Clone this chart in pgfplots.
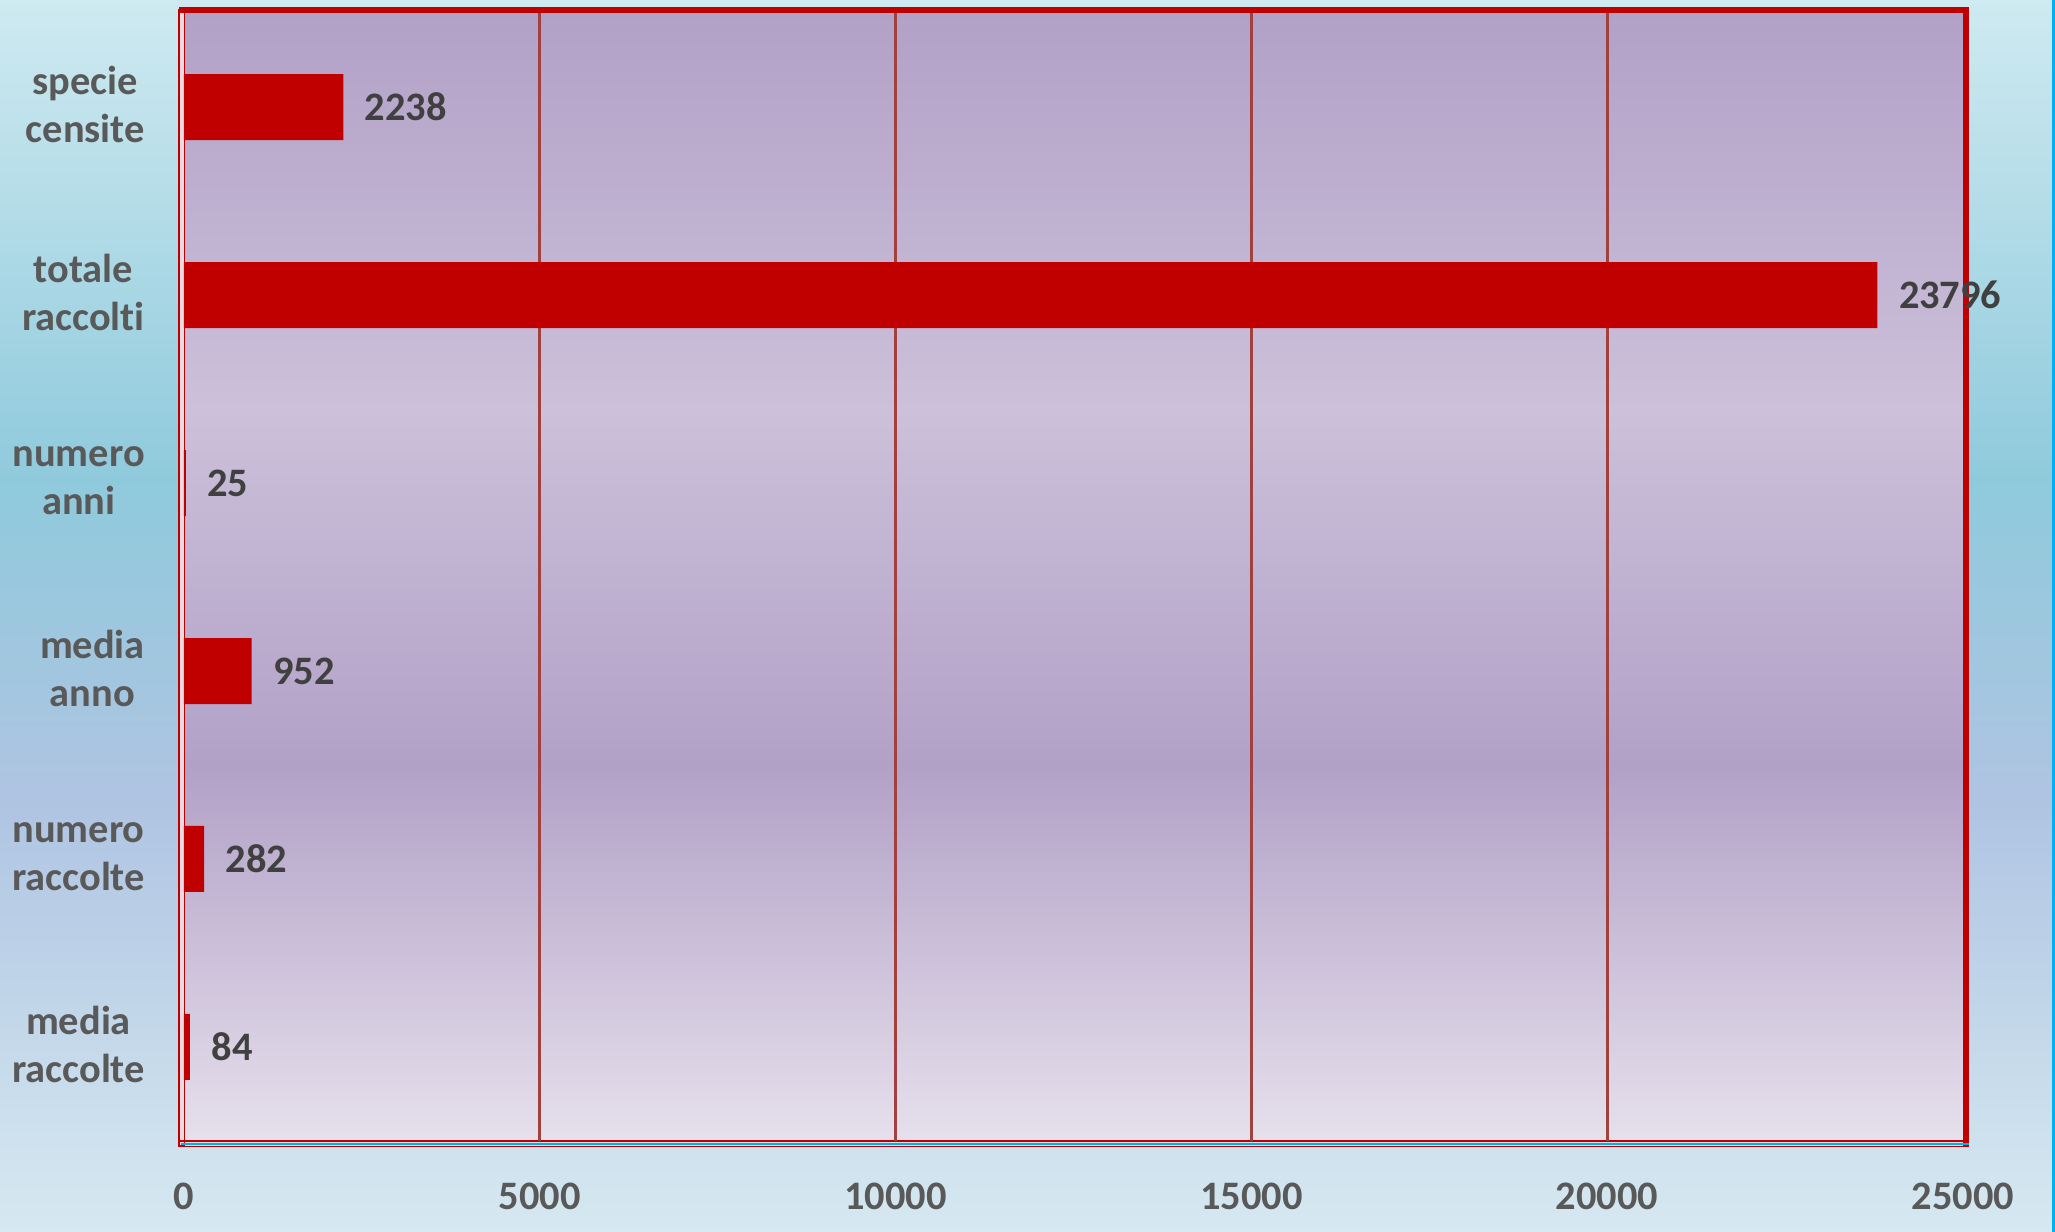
\documentclass[border=0pt]{standalone}
\usepackage{fontspec}
\setmainfont{Carlito}[Ligatures=CommonOff]
\usepackage{pgfplots}
\pgfplotsset{compat=1.18}

\definecolor{barred}{HTML}{C00000}
\definecolor{gridred}{HTML}{A0413E}
\definecolor{labgray}{HTML}{595959}
\definecolor{valgray}{HTML}{404040}
\definecolor{edgeblue}{HTML}{00B0F0}
\definecolor{stripfill}{HTML}{E6DCE4}
% outer background
\definecolor{ob1}{HTML}{D6E9F1}
\definecolor{ob2}{HTML}{AFC4E2}
\definecolor{ob3}{HTML}{8FCADC}
\definecolor{ob4}{HTML}{CFEAF1}
% plot area
\definecolor{pa1}{HTML}{E6E0EC}
\definecolor{pa2}{HTML}{B2A1C7}
\definecolor{pa3}{HTML}{CCC0DA}
\definecolor{pa4}{HTML}{B2A1C7}

\pgfdeclareverticalshading{outerbg}{100bp}{color(0bp)=(ob1); color(25bp)=(ob1);
  color(42.5bp)=(ob2); color(55.5bp)=(ob3); color(75bp)=(ob4); color(100bp)=(ob4)}
\pgfdeclareverticalshading{plotbg}{100bp}{color(0bp)=(pa1); color(25bp)=(pa1);
  color(41.6bp)=(pa2); color(57.4bp)=(pa3); color(75bp)=(pa4); color(100bp)=(pa4)}

\newcommand{\lblfont}{\fontsize{11.5}{13.5}\selectfont\bfseries}

\begin{document}
\begin{tikzpicture}
  % backgrounds and frame, in image pixels (origin top left)
  \begin{scope}[x=0.1mm, y=-0.1mm, shift={(0,123.2mm)}]
    \shade[shading=outerbg] (0,0) rectangle (2055,1232);
    \shade[shading=plotbg] (184,13.3) rectangle (1963,1141);
    \fill[edgeblue] (2052,0) rectangle (2055,1232);
    \filldraw[fill=stripfill, draw=barred, line width=0.15mm] (179,10) rectangle (184.3,1146);
    \draw[barred, line width=0.66mm] (179,10) -- (1966,10) -- (1966,1146);
    \draw[barred, line width=0.2mm] (179,1141) -- (1969,1141);
    \draw[edgeblue, line width=0.25mm] (181,1143.8) -- (1969,1143.8);
    \draw[barred, line width=0.15mm] (179,1146.3) -- (1969,1146.3);
  \end{scope}

  \begin{axis}[
      at={(18.4mm,9.1mm)}, anchor=south west,
      scale only axis,
      width=177.9mm, height=112.8mm,
      xbar,
      bar width=6.6mm,
      y dir=reverse,
      xmin=0, xmax=25000,
      ymin=-0.5, ymax=5.5,
      xtick={0,5000,...,25000},
      scaled x ticks=false,
      extra x ticks={5000,10000,15000,20000},
      extra x tick labels={},
      extra x tick style={grid=major},
      major grid style={gridred, line width=0.27mm},
      ytick={0,1,2,3,4,5},
      yticklabels={{specie\\censite},{totale\\raccolti},{numero\\anni},
                   {media\\anno},{numero\\raccolte},{media\\raccolte}},
      axis line style={draw=none},
      tick style={draw=none},
      major tick length=0pt,
      tick label style={font=\lblfont, text=labgray},
      yticklabel style={align=center, anchor=east, inner sep=0pt, xshift=-3.85mm, yshift=0.25mm},
      xticklabel style={anchor=north, inner sep=0pt, yshift=-4.1mm},
      xticklabel={\pgfmathprintnumber[fixed,precision=0,1000 sep={},assume math mode=true]{\tick}},
      clip=false,
      point meta=x,
      nodes near coords={\pgfmathprintnumber[fixed,precision=0,1000 sep={},assume math mode=true]{\pgfplotspointmeta}},
      nodes near coords style={anchor=west, inner sep=0pt, xshift=2.1mm,
                               font=\lblfont, text=valgray},
    ]
    \addplot[xbar, fill=barred, draw=none] coordinates {
      (2238,0)
      (23796,1)
      (25,2)
      (952,3)
      (282,4)
      (84,5)
    };
  \end{axis}
\end{tikzpicture}
\end{document}
